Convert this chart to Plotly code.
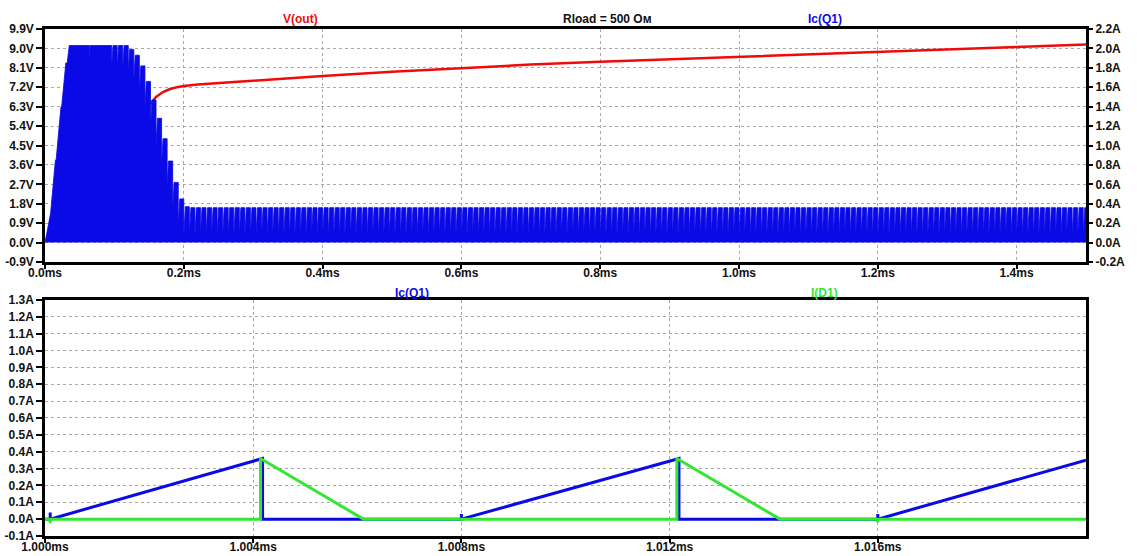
import plotly.graph_objects as go

# ---------------- data ----------------
# Top pane: V(out) (left axis, V)
VOUT_T_MS = [0.151, 0.155, 0.160, 0.170, 0.180, 0.190, 0.200, 0.220, 0.250, 0.300,
             0.400, 0.500, 0.600, 0.700, 0.800, 0.900, 1.000, 1.100, 1.200, 1.300,
             1.400, 1.500]
VOUT_V = [6.40, 6.55, 6.75, 6.98, 7.12, 7.20, 7.26, 7.33, 7.40, 7.50,
          7.72, 7.92, 8.10, 8.25, 8.38, 8.50, 8.62, 8.73, 8.85, 8.96,
          9.07, 9.18]

# Top pane: Ic(Q1) as it appears at this zoom (right axis, A):
# one entry per 8 us switching cycle - notch bottom, top level, rise time of the notch
PERIOD_MS = 0.008
STARTUP_NOTCH_A = [0.00, 0.30, 0.85, 1.40, 1.85, 2.03, 2.03, 2.03, 1.80, 2.03,
                   2.03, 2.03, 1.82, 1.80, 1.80, 1.76, 1.68, 1.56, 1.40, 1.20,
                   1.00, 0.80, 0.58, 0.36, 0.18, 0.08]
STARTUP_TOP_A = [0.30, 0.85, 1.40, 1.85, 2.03, 2.03, 2.03, 2.03, 2.03, 2.03,
                 2.03, 2.03, 2.03, 2.03, 2.03, 1.99, 1.93, 1.82, 1.66, 1.47,
                 1.28, 1.07, 0.84, 0.62, 0.45, 0.37]
STARTUP_RISE_MS = [0.0070, 0.0070, 0.0070, 0.0060, 0.0030, 0.0001, 0.0001, 0.0001, 0.0010, 0.0001,
                   0.0001, 0.0001, 0.0020, 0.0020, 0.0020, 0.0020, 0.0020, 0.0020, 0.0020, 0.0020,
                   0.0020, 0.0020, 0.0020, 0.0020, 0.0022, 0.0022]
STEADY_TOP_A = 0.36
STEADY_NOTCH_A = 0.08
STEADY_RISE_MS = 0.0022
END_MS = 1.5

# Bottom pane (zoom 1.000 - 1.020 ms)
IC_T_MS = [1.0000, 1.0001, 1.0001, 1.0001, 1.00418, 1.00418, 1.0080, 1.0080, 1.0080,
           1.01218, 1.01218, 1.0160, 1.0160, 1.0160, 1.0200]
IC_A = [0.0, 0.0, 0.04, 0.0, 0.36, 0.0, 0.0, 0.03, 0.0,
        0.36, 0.0, 0.0, 0.03, 0.0, 0.35]
D1_T_MS = [1.0000, 1.0001, 1.0001, 1.0001, 1.00414, 1.00414, 1.00612, 1.01214, 1.01214,
           1.01412, 1.0160, 1.0160, 1.0160, 1.0200]
D1_A = [0.0, 0.0, -0.025, 0.0, 0.0, 0.36, 0.0, 0.0, 0.36,
        0.0, 0.0, -0.02, 0.0, 0.0]

# Axis ticks
TOP_X_TICKS = [0.0, 0.2, 0.4, 0.6, 0.8, 1.0, 1.2, 1.4]
TOP_X_TEXT = ["0.0ms", "0.2ms", "0.4ms", "0.6ms", "0.8ms", "1.0ms", "1.2ms", "1.4ms"]
V_TICKS = [-0.9, 0.0, 0.9, 1.8, 2.7, 3.6, 4.5, 5.4, 6.3, 7.2, 8.1, 9.0, 9.9]
V_TEXT = ["-0.9V", "0.0V", "0.9V", "1.8V", "2.7V", "3.6V", "4.5V", "5.4V", "6.3V",
          "7.2V", "8.1V", "9.0V", "9.9V"]
A2_TICKS = [-0.2, 0.0, 0.2, 0.4, 0.6, 0.8, 1.0, 1.2, 1.4, 1.6, 1.8, 2.0, 2.2]
A2_TEXT = ["-0.2A", "0.0A", "0.2A", "0.4A", "0.6A", "0.8A", "1.0A", "1.2A", "1.4A",
           "1.6A", "1.8A", "2.0A", "2.2A"]
BOT_X_TICKS = [1.000, 1.004, 1.008, 1.012, 1.016]
BOT_X_TEXT = ["1.000ms", "1.004ms", "1.008ms", "1.012ms", "1.016ms"]
A3_TICKS = [-0.1, 0.0, 0.1, 0.2, 0.3, 0.4, 0.5, 0.6, 0.7, 0.8, 0.9, 1.0, 1.1, 1.2, 1.3]
A3_TEXT = ["-0.1A", "0.0A", "0.1A", "0.2A", "0.3A", "0.4A", "0.5A", "0.6A", "0.7A",
           "0.8A", "0.9A", "1.0A", "1.1A", "1.2A", "1.3A"]

RED = "#f00a0a"
BLUE = "#0a0ae6"
GREEN = "#33e633"
GRID = "#a8a8a8"
FONT = "Liberation Sans"

# ---------------- build top Ic(Q1) polyline from per-cycle values ----------------
ic_t, ic_a = [0.0], [0.0]
n_cycles = int(END_MS / PERIOD_MS) + 1
for k in range(n_cycles):
    t0 = k * PERIOD_MS
    if t0 >= END_MS:
        break
    if k < len(STARTUP_TOP_A):
        n, p, r = STARTUP_NOTCH_A[k], STARTUP_TOP_A[k], STARTUP_RISE_MS[k]
    else:
        n, p, r = STEADY_NOTCH_A, STEADY_TOP_A, STEADY_RISE_MS
    ic_t += [t0, t0 + r, t0 + PERIOD_MS]
    ic_a += [n, p, p]

fig = go.Figure()
fig.add_trace(go.Scatter(x=ic_t, y=ic_a, mode="lines", fill="tozeroy", fillcolor=BLUE,
                         line=dict(color=BLUE, width=0.8),
                         xaxis="x", yaxis="y2", hoverinfo="skip"))
fig.add_trace(go.Scatter(x=VOUT_T_MS, y=VOUT_V, mode="lines", line=dict(color=RED, width=2.5),
                         xaxis="x", yaxis="y"))
fig.add_trace(go.Scatter(x=IC_T_MS, y=IC_A, mode="lines", line=dict(color=BLUE, width=3),
                         xaxis="x2", yaxis="y3"))
fig.add_trace(go.Scatter(x=D1_T_MS, y=D1_A, mode="lines", line=dict(color=GREEN, width=3),
                         xaxis="x2", yaxis="y3"))

tickfont = dict(family=FONT, size=12, color="#111111", weight="bold")
common = dict(showline=True, linecolor="black", linewidth=2.5, ticks="outside",
              ticklen=6, tickwidth=2, tickcolor="black", tickfont=tickfont,
              showgrid=True, gridcolor=GRID, gridwidth=1, griddash="dot",
              zeroline=False, fixedrange=True, automargin=False)
xcommon = {**common, "ticklen": 4, "ticklabelstandoff": -6}

fig.update_layout(
    width=1137, height=556,
    margin=dict(l=45, r=51, t=29, b=20, pad=0),
    paper_bgcolor="white", plot_bgcolor="white",
    showlegend=False,
    xaxis=dict(domain=[0, 1], anchor="y", range=[0, 1.5], tickvals=TOP_X_TICKS,
               ticktext=TOP_X_TEXT, mirror=True, **xcommon),
    yaxis=dict(domain=[0.5404, 1], anchor="x", range=[-0.9, 9.9], tickvals=V_TICKS,
               ticktext=V_TEXT, mirror=True, **common),
    yaxis2=dict(overlaying="y", side="right", anchor="x", range=[-0.2, 2.2],
                tickvals=A2_TICKS, ticktext=A2_TEXT,
                **{**common, "showgrid": False, "showline": False}),
    xaxis2=dict(domain=[0, 1], anchor="y3", range=[1.0, 1.02], tickvals=BOT_X_TICKS,
                ticktext=BOT_X_TEXT, mirror=True, **xcommon),
    yaxis3=dict(domain=[0, 0.4655], anchor="x2", range=[-0.1, 1.3], tickvals=A3_TICKS,
                ticktext=A3_TEXT, mirror=True, **common),
)

def label(text, x, y, color):
    fig.add_annotation(text=text, x=x, y=y, xref="paper", yref="paper",
                       xanchor="center", yanchor="middle", showarrow=False,
                       font=dict(family=FONT, size=12, color=color, weight="bold"))

label("V(out)", 0.245, 1.019, RED)
label("Rload = 500 Ом", 0.540, 1.019, "#111111")
label("Ic(Q1)", 0.749, 1.019, BLUE)
label("Ic(Q1)", 0.3525, 0.479, BLUE)
label("I(D1)", 0.749, 0.479, GREEN)

fig.write_html(
    "out.html",
    config={"displayModeBar": False},
    post_script="document.body.style.margin='0';document.body.style.overflow='hidden';",
)
